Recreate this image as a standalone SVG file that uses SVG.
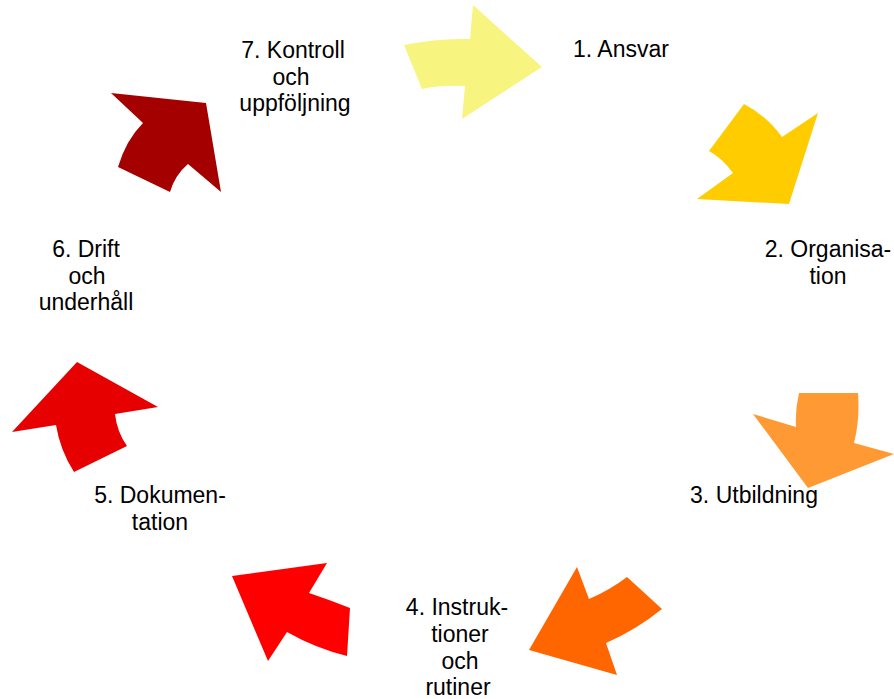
<svg xmlns="http://www.w3.org/2000/svg" width="894" height="699" viewBox="0 0 894 699">
<style>
text { font-family: "Liberation Sans", Arial, sans-serif; font-size: 23px; fill: #000; text-anchor: middle; }
</style>
<rect width="894" height="699" fill="#fff"/>
<g id="arrows">
  <path id="arrow1" d="M404,45 Q437,38 470,39 L473,5 L542,67 L462,119 L465,86 Q440,85 422,89 Z" fill="#F7F57F"/>
  <path id="arrow2" d="M744,104 Q767,116 782,137 L818,113 L789,204 L697,199 L733,173 Q722,158 709,151 Z" fill="#FFCC00"/>
  <path id="arrow3" d="M799,393 L858,393 Q860,420 854,443 L894,454 L808,488 L753,414 L796,427 Q795,410 799,393 Z" fill="#FF9933"/>
  <path id="arrow4" d="M577,567 L589,599 Q610,590 627,577 L662,609 Q636,630 606,643 L617,675 L529,650 Z" fill="#FF6600"/>
  <path id="arrow5" d="M232,576 L327,563 L309,593 Q330,600 350,608 L347,656 Q315,648 287,632 L268,661 Z" fill="#FF0000"/>
  <path id="arrow6" d="M77,362 L158,407 L115,414 Q117,432 127,446 L74,472 Q60,450 56,425 L12,432 Z" fill="#E60000"/>
  <path id="arrow7" d="M111,93 L206,103 L221,192 L188,164 Q175,175 170,192 L118,167 Q126,140 143,123 Z" fill="#A50000"/>
</g>
<g id="step1"><text x="621" y="57">1. Ansvar</text></g>
<g id="step2"><text x="828" y="257">2. Organisa-</text><text x="828" y="284">tion</text></g>
<g id="step3"><text x="754" y="503">3. Utbildning</text></g>
<g id="step4"><text x="457" y="615">4. Instruk-</text><text x="460" y="642">tioner</text><text x="460" y="669">och</text><text x="458" y="695">rutiner</text></g>
<g id="step5"><text x="160" y="503">5. Dokumen-</text><text x="160" y="530">tation</text></g>
<g id="step6"><text x="86" y="257">6. Drift</text><text x="87" y="284">och</text><text x="86" y="310">underhåll</text></g>
<g id="step7"><text x="293" y="58">7. Kontroll</text><text x="291" y="85">och</text><text x="295" y="111">uppföljning</text></g>
</svg>
